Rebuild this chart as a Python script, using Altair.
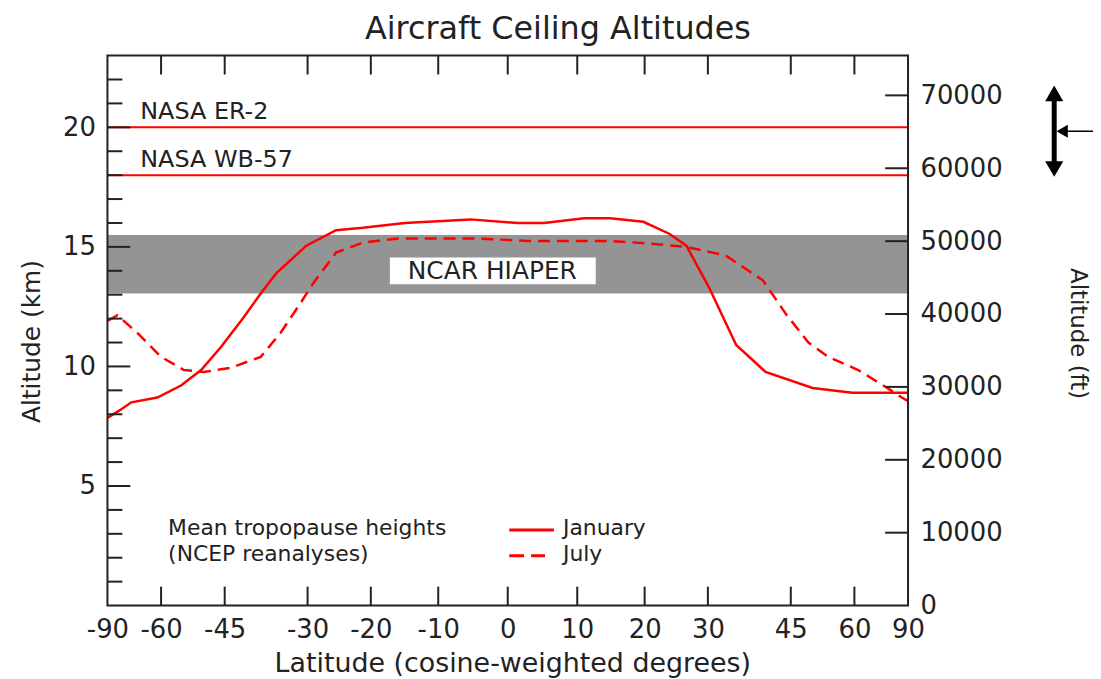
import math
import altair as alt
import pandas as pd

# ---------------- data ----------------
jan_lat = [-90, -76.1, -70.1, -61.1, -54.7, -50.0, -45.8, -41.3, -38.1, -35.3, -30.2, -25.4, -21.2,
           -14.9, -5.3, 1.4, 5.2, 11.0, 14.8, 19.8, 23.8, 26.5, 30.2, 34.8, 40.1, 49.6, 59.4, 83.0, 90]
jan_km = [7.85, 8.15, 8.5, 8.7, 9.2, 9.85, 10.8, 12.05, 13.05, 13.9, 15.05, 15.7, 15.8,
          16.0, 16.15, 16.0, 16.0, 16.2, 16.2, 16.05, 15.55, 15.05, 13.3, 10.9, 9.77, 9.1, 8.9, 8.9, 8.9]

jul_lat = [-90, -77.2, -67.7, -60.0, -54.0, -49.4, -43.8, -38.1, -34.6, -31.2, -29.1, -25.4, -21.2,
           -15.9, -4.4, 2.8, 14.8, 20.3, 26.5, 33.0, 39.6, 44.0, 48.7, 53.2, 61.1, 70.6, 80.0, 90]
jul_km = [11.9, 12.14, 11.4, 10.4, 9.85, 9.77, 9.94, 10.4, 11.4, 12.64, 13.47, 14.76, 15.18,
          15.35, 15.35, 15.25, 15.25, 15.15, 15.0, 14.64, 13.6, 12.2, 11.0, 10.4, 9.85, 9.15, 8.7, 8.55]

aircraft_names = ["NASA ER-2", "NASA WB-57"]
aircraft_ceiling_km = [20, 18]
hiaper_band_km = [13.05, 15.5]

x_label_lats = [-90, -60, -45, -30, -20, -10, 0, 10, 20, 30, 45, 60, 90]
x_tick_lats = [-60, -45, -30, -20, -10, 0, 10, 20, 30, 45, 60]
y_major_km = [5, 10, 15, 20]
y_minor_km = [1, 2, 3, 4, 6, 7, 8, 9, 11, 12, 13, 14, 16, 17, 18, 19, 21, 22]
ft_labels = [0, 10000, 20000, 30000, 40000, 50000, 60000, 70000]
ft_ticks = [10000, 20000, 30000, 40000, 50000, 60000, 70000]

KM_MAX = 23
FT_MAX = KM_MAX / 0.0003048
W, H = 805, 553
RED = "#ff0000"
INK = "#222222"
FONT = "DejaVu Sans"

# ---------------- tables ----------------
jan_df = pd.DataFrame({"lat": jan_lat, "km": jan_km})
jul_df = pd.DataFrame({"lat": jul_lat, "km": jul_km})
air_df = pd.DataFrame({"name": aircraft_names, "km": aircraft_ceiling_km})
band_df = pd.DataFrame({"km1": [hiaper_band_km[0]], "km2": [hiaper_band_km[1]]})
xt_df = pd.DataFrame({"lat": x_tick_lats})
ymaj_df = pd.DataFrame({"km": y_major_km})
ymin_df = pd.DataFrame({"km": y_minor_km})
ft_df = pd.DataFrame({"ft": ft_ticks})
one = pd.DataFrame({"a": [0]})

sin_calc = "sin(datum.lat * PI / 180)"

x_axis = alt.Axis(
    values=[math.sin(v * math.pi / 180) for v in x_label_lats],
    labelExpr="'' + round(asin(datum.value) * 180 / PI)",
    ticks=False, domain=False, grid=False, labelFlush=False, labelOverlap=False,
    labelFontSize=26, labelColor=INK, labelPadding=11, labelFont=FONT,
    title="Latitude (cosine-weighted degrees)", titleFontSize=27, titleFontWeight="normal",
    titleColor=INK, titleFont=FONT, titleX=407, titleY=66, titleAlign="center",
    titleBaseline="alphabetic",
)
x_scale = alt.Scale(domain=[-1, 1], nice=False, zero=False)

def X():
    return alt.X("s:Q", scale=x_scale, axis=x_axis)

y_axis = alt.Axis(
    values=y_major_km, format="d", ticks=False, domain=False, grid=False,
    labelFontSize=26, labelColor=INK, labelPadding=12, labelFlush=False, labelFont=FONT,
    title="Altitude (km)", titleFontSize=25, titleFontWeight="normal", titleColor=INK,
    titleFont=FONT, titleAngle=270, titleX=-76, titleY=287, titleAlign="center",
    titleBaseline="middle",
)
y_scale = alt.Scale(domain=[0, KM_MAX], nice=False, zero=True)

def Y(field="km"):
    return alt.Y(f"{field}:Q", scale=y_scale, axis=y_axis)

def label(text, x, y, size, align="left", baseline="alphabetic"):
    return alt.Chart(one).mark_text(
        text=text, fontSize=size, font=FONT, color=INK, align=align, baseline=baseline
    ).encode(x=alt.value(x), y=alt.value(y))

# ---------------- layers ----------------
band = alt.Chart(band_df).mark_rect(color="#949494").encode(
    x=alt.value(0), x2=alt.value(W), y=Y("km1"), y2="km2:Q")

box = alt.Chart(one).mark_rect(color="white").encode(
    x=alt.value(284), x2=alt.value(491), y=alt.value(203), y2=alt.value(230))
box_text = label("NCAR HIAPER", 387, 217, 25, align="center", baseline="middle")

air_lines = alt.Chart(air_df).mark_rule(color=RED, strokeWidth=2).encode(
    x=alt.value(0), x2=alt.value(W), y=Y())
air_text = alt.Chart(air_df).mark_text(
    fontSize=24, font=FONT, color=INK, align="left", baseline="alphabetic", dy=-8
).encode(x=alt.value(33), y=Y(), text="name:N")

jan = alt.Chart(jan_df).transform_calculate(s=sin_calc).mark_line(
    color=RED, strokeWidth=2.5, interpolate="linear").encode(x=X(), y=Y(), order="lat:Q")
jul = alt.Chart(jul_df).transform_calculate(s=sin_calc).mark_line(
    color=RED, strokeWidth=2.5, strokeDash=[12, 7], interpolate="linear").encode(
    x=X(), y=Y(), order="lat:Q")

xt_bottom = alt.Chart(xt_df).transform_calculate(s=sin_calc).mark_rule(
    color=INK, strokeWidth=2).encode(x=X(), y=alt.value(H), y2=alt.value(H - 19))
xt_top = alt.Chart(xt_df).transform_calculate(s=sin_calc).mark_rule(
    color=INK, strokeWidth=2).encode(x=X(), y=alt.value(0), y2=alt.value(19))

ymaj = alt.Chart(ymaj_df).mark_rule(color=INK, strokeWidth=2).encode(
    y=Y(), x=alt.value(0), x2=alt.value(23))
ymin = alt.Chart(ymin_df).mark_rule(color=INK, strokeWidth=2).encode(
    y=Y(), x=alt.value(0), x2=alt.value(15))

frame = alt.Chart(one).mark_rect(filled=False, stroke=INK, strokeWidth=2).encode(
    x=alt.value(0), x2=alt.value(W), y=alt.value(0), y2=alt.value(H))

# title
title = label("Aircraft Ceiling Altitudes", 453, -17, 32, align="center")

# legend
leg_t1 = label("Mean tropopause heights", 61, 482, 22)
leg_t2 = label("(NCEP reanalyses)", 61, 508, 22)
leg_l1 = alt.Chart(one).mark_rule(color=RED, strokeWidth=3).encode(
    x=alt.value(404), x2=alt.value(449), y=alt.value(477))
leg_l2 = alt.Chart(one).mark_rule(color=RED, strokeWidth=3, strokeDash=[15, 7]).encode(
    x=alt.value(404), x2=alt.value(440), y=alt.value(503))
leg_t3 = label("January", 458, 482, 22)
leg_t4 = label("July", 458, 508, 22)

# arrow annotation at right
arr_shaft = alt.Chart(one).mark_rule(color="black", strokeWidth=5).encode(
    x=alt.value(952), y=alt.value(44), y2=alt.value(108))
arr_up = alt.Chart(one).mark_point(shape="triangle-up", filled=True, size=330, color="black",
                                   opacity=1).encode(x=alt.value(952), y=alt.value(38))
arr_dn = alt.Chart(one).mark_point(shape="triangle-down", filled=True, size=330, color="black",
                                   opacity=1).encode(x=alt.value(952), y=alt.value(114))
arr_h = alt.Chart(one).mark_rule(color="black", strokeWidth=1.5).encode(
    x=alt.value(962), x2=alt.value(995), y=alt.value(76))
arr_l = alt.Chart(one).mark_point(shape="triangle-left", filled=True, size=170, color="black",
                                  opacity=1).encode(x=alt.value(960), y=alt.value(76))

inner = alt.layer(band, box, box_text, air_lines, air_text, jul, jan,
                  xt_bottom, xt_top, ymaj, ymin, frame, title,
                  leg_t1, leg_t2, leg_l1, leg_l2, leg_t3, leg_t4,
                  arr_shaft, arr_up, arr_dn, arr_h, arr_l)

ft_axis = alt.Axis(
    orient="right", values=ft_labels, format="d", ticks=False, domain=False, grid=False,
    labelFontSize=26, labelColor=INK, labelPadding=12, labelFlush=False, labelFont=FONT,
    title="Altitude (ft)", titleFontSize=23, titleFontWeight="normal", titleColor=INK,
    titleFont=FONT, titleAngle=90, titleX=170, titleY=279, titleAlign="center",
    titleBaseline="middle",
)
ft_layer = alt.Chart(ft_df).mark_rule(color=INK, strokeWidth=2).encode(
    y=alt.Y("ft:Q", scale=alt.Scale(domain=[0, FT_MAX], nice=False, zero=True), axis=ft_axis),
    x=alt.value(W), x2=alt.value(W - 23))

chart = alt.layer(inner, ft_layer).resolve_scale(y="independent").properties(
    width=W, height=H,
    padding={"left": 100, "top": 46, "right": 186, "bottom": 72},
    autosize=alt.AutoSizeParams(type="none"),
).configure(font=FONT).configure_view(stroke=None, strokeWidth=0)

chart.save("out.html", embed_options={"renderer": "svg", "actions": False})
